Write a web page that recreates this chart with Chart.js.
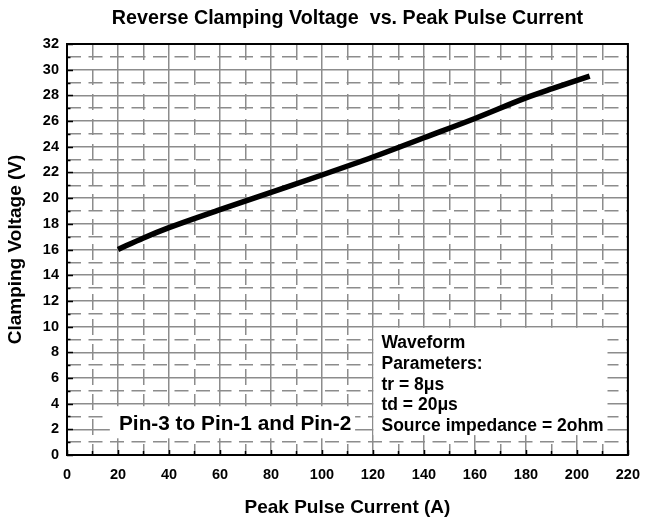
<!DOCTYPE html>
<html>
<head>
<meta charset="utf-8">
<script src="https://cdn.jsdelivr.net/npm/chart.js@4.4.1/dist/chart.umd.min.js"></script>
<style>
  body { margin: 0; background: #fff; }
  #wrap { width: 651px; height: 521px; }
</style>
</head>
<body>
<div id="wrap"><canvas id="clampChart" width="651" height="521"></canvas></div>
<script>
// texts
const chartTitle = 'Reverse Clamping Voltage  vs. Peak Pulse Current';
const xTitle = 'Peak Pulse Current (A)';
const yTitle = 'Clamping Voltage (V)';
const pinNote = 'Pin-3 to Pin-1 and Pin-2';
const waveformNote = ['Waveform', 'Parameters:', 'tr = 8\u03BCs', 'td = 20\u03BCs', 'Source impedance = 2ohm'];

// curve
const peakCurrent = [20, 30, 40, 60, 80, 100, 120, 140, 160, 180, 190, 205];
const clampVoltage = [16.0, 16.9, 17.7, 19.1, 20.45, 21.8, 23.2, 24.7, 26.2, 27.8, 28.5, 29.5];

// axes
const xRange = [0, 220];
const xStep = 10;
const xLabelEvery = 20;
const yRange = [0, 32];
const yStep = 1;
const yLabelEvery = 2;

const FONT = '"Liberation Sans", Arial, sans-serif';
const GRID = '#8c8c8c';

// frame, inward ticks, title and the two note boxes
const overlay = {
    id: 'overlay',
    afterDatasetsDraw(chart) {
        const { ctx, chartArea: a, scales: { x, y } } = chart;
        ctx.save();

        // inward ticks
        ctx.strokeStyle = '#000';
        ctx.lineWidth = 1.5;
        ctx.beginPath();
        y.ticks.forEach(t => {
            const py = Math.round(y.getPixelForValue(t.value)) + 0.5;
            const len = t.value % yLabelEvery === 0 ? 6 : 3.5;
            ctx.moveTo(a.left, py);
            ctx.lineTo(a.left + len, py);
        });
        x.ticks.forEach(t => {
            const px = Math.round(x.getPixelForValue(t.value)) + 0.5;
            const len = t.value % xLabelEvery === 0 ? 5 : 4;
            ctx.moveTo(px, a.bottom);
            ctx.lineTo(px, a.bottom - len);
        });
        ctx.stroke();

        // frame
        ctx.lineWidth = 2;
        ctx.strokeRect(a.left, a.top, a.right - a.left, a.bottom - a.top);

        // title
        ctx.fillStyle = '#000';
        ctx.font = 'bold 19.7px ' + FONT;
        ctx.textAlign = 'center';
        ctx.textBaseline = 'middle';
        ctx.fillText(chartTitle, (a.left + a.right) / 2, 19);

        // pin note
        ctx.textAlign = 'left';
        ctx.textBaseline = 'alphabetic';
        const pL = x.getPixelForValue(16.8), pR = x.getPixelForValue(113);
        const pT = y.getPixelForValue(3.8), pB = y.getPixelForValue(1.3);
        ctx.fillStyle = '#fff';
        ctx.fillRect(pL, pT, pR - pL, pB - pT);
        ctx.fillStyle = '#000';
        ctx.font = 'bold 20.8px ' + FONT;
        ctx.fillText(pinNote, x.getPixelForValue(20) + 1, y.getPixelForValue(1.95));

        // waveform note
        const wL = x.getPixelForValue(120.2), wR = x.getPixelForValue(212);
        const wT = y.getPixelForValue(9.9), wB = y.getPixelForValue(1.55);
        ctx.fillStyle = '#fff';
        ctx.fillRect(wL, wT, wR - wL, wB - wT);
        ctx.fillStyle = '#000';
        ctx.font = 'bold 17.5px ' + FONT;
        const base = y.getPixelForValue(8.3);
        waveformNote.forEach((line, i) => {
            ctx.fillText(line, wL + 8, base + i * 20.7);
        });

        ctx.restore();
    }
};

const ctx = document.getElementById('clampChart').getContext('2d');
const clampChart = new Chart(ctx, {
    type: 'line',
    data: {
        datasets: [{
            data: peakCurrent.map((c, i) => ({ x: c, y: clampVoltage[i] })),
            borderColor: '#000',
            borderWidth: 5.5,
            pointRadius: 0,
            fill: false,
            cubicInterpolationMode: 'monotone',
            borderCapStyle: 'butt'
        }]
    },
    options: {
        responsive: false,
        animation: false,
        layout: { padding: { top: 44, right: 15, left: 0, bottom: 0 } },
        plugins: {
            legend: { display: false },
            tooltip: { enabled: false }
        },
        scales: {
            x: {
                type: 'linear',
                min: xRange[0],
                max: xRange[1],
                afterFit: s => { s.height = 66; },
                ticks: {
                    stepSize: xStep,
                    autoSkip: false,
                    maxRotation: 0,
                    padding: 11,
                    color: '#000',
                    font: { family: FONT, size: 14.5, weight: 'bold' },
                    callback: v => (v % xLabelEvery === 0 ? String(v) : '')
                },
                grid: {
                    color: GRID,
                    lineWidth: 1.5,
                    drawTicks: false
                },
                border: {
                    display: false,
                    dash: c => (c.tick && c.tick.value % xLabelEvery !== 0 ? [16, 9] : [])
                },
                title: {
                    display: true,
                    text: xTitle,
                    color: '#000',
                    padding: { top: 0, bottom: 2 },
                    font: { family: FONT, size: 19, weight: 'bold' }
                }
            },
            y: {
                type: 'linear',
                min: yRange[0],
                max: yRange[1],
                afterFit: s => { s.width = 67; },
                ticks: {
                    stepSize: yStep,
                    autoSkip: false,
                    padding: 8,
                    color: '#000',
                    font: { family: FONT, size: 14.5, weight: 'bold' },
                    callback: v => (v % yLabelEvery === 0 ? String(v) : '')
                },
                grid: {
                    color: GRID,
                    lineWidth: 1.5,
                    drawTicks: false
                },
                border: {
                    display: false,
                    dash: c => (c.tick && c.tick.value % yLabelEvery !== 0 ? [14, 7.5] : [])
                },
                title: {
                    display: true,
                    text: yTitle,
                    color: '#000',
                    padding: { top: 4, bottom: 0 },
                    font: { family: FONT, size: 19, weight: 'bold' }
                }
            }
        }
    },
    plugins: [overlay]
});
</script>
</body>
</html>
